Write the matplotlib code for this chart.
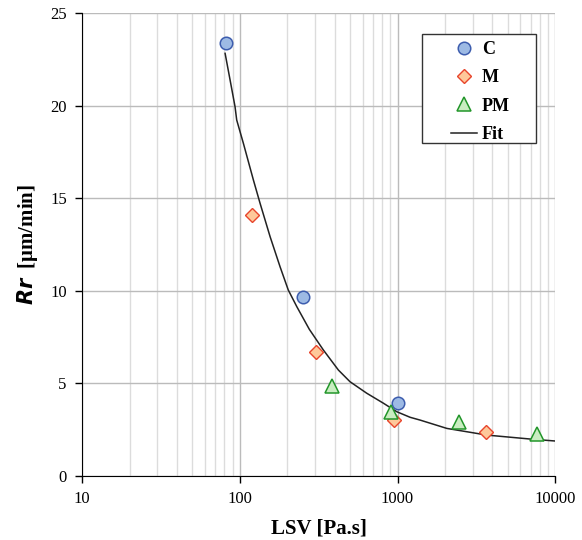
import numpy as np
import matplotlib.pyplot as plt
from matplotlib.patches import Rectangle
from matplotlib.ticker import LogLocator, NullFormatter, FixedLocator

plt.rcParams['font.family'] = ['Liberation Serif', 'DejaVu Serif']

# measured data
c_lsv = [82, 252, 1008]
c_rr = [23.4, 9.67, 3.94]
m_lsv = [120, 305, 950, 3630]
m_rr = [14.1, 6.7, 3.0, 2.4]
pm_lsv = [385, 910, 2460, 7680]
pm_rr = [4.85, 3.47, 2.93, 2.27]

# fit curve
fit_lsv = [80.7, 86.8, 93.3, 95.6, 105.4, 122, 134.5, 155.7, 180, 203, 230,
           276, 339, 422, 500, 638, 814, 990, 1202, 1390, 2055, 3684, 7280,
           10000]
fit_rr = [22.82, 21.38, 19.94, 19.22, 17.96, 15.98, 14.72, 12.92, 11.30,
          10.04, 9.14, 7.92, 6.80, 5.72, 5.09, 4.47, 3.93, 3.47, 3.17, 3.02,
          2.57, 2.21, 1.98, 1.89]

fig = plt.figure(figsize=(5.82, 5.40), dpi=100)
ax = fig.add_axes([0.141, 0.1185, 0.813, 0.8575])

ax.plot(fit_lsv, fit_rr, c='#222222', lw=1.1, label='Fit', zorder=3)
ax.plot(c_lsv, c_rr, 'o', ms=9, mfc='#9DBAE4', mec='#3D5DAE', mew=1.1,
        label='C', zorder=4)
ax.plot(m_lsv, m_rr, 'D', ms=7, mfc='#FEC89A', mec='#E8452C', mew=1.0,
        label='M', zorder=4)
ax.plot(pm_lsv, pm_rr, '^', ms=10, mfc='#C9EDC1', mec='#22962A', mew=1.1,
        label='PM', zorder=4)

ax.set_xscale('log')
ax.set_xlim(10, 10000)
ax.set_ylim(0, 25)
ax.set_yticks([0, 5, 10, 15, 20, 25])
ax.xaxis.set_major_locator(FixedLocator([10, 100, 1000, 10000]))
ax.set_xticklabels(['10', '100', '1000', '10000'])
ax.xaxis.set_minor_locator(LogLocator(base=10, subs=np.arange(2, 10)))
ax.xaxis.set_minor_formatter(NullFormatter())

ax.grid(which='major', axis='both', color='#BBBBBB', lw=1.0)
ax.grid(which='minor', axis='x', color='#DCDCDC', lw=1.0)
ax.set_axisbelow(True)

for s in ['top', 'right']:
    ax.spines[s].set_visible(False)
ax.tick_params(which='major', direction='out', length=5, width=1,
               labelsize=12, pad=6)
ax.tick_params(which='minor', length=0)

ax.set_xlabel('LSV [Pa.s]', fontsize=15, fontweight='bold', labelpad=8)
ax.set_ylabel(r'$\mathbfit{Rr}$  [$\mathregular{\mu}$m/min]', fontsize=15,
              fontweight='bold', labelpad=7)

# legend: no own frame, box drawn separately to get the wide look
h, l = ax.get_legend_handles_labels()
order = [1, 2, 3, 0]
leg = ax.legend([h[i] for i in order], [l[i] for i in order],
                loc='upper left', bbox_to_anchor=(0.75, 0.97),
                prop={'weight': 'bold', 'size': 13}, frameon=False,
                borderpad=0.3, labelspacing=0.62, handlelength=1.4,
                handletextpad=0.3)
leg.set_zorder(6)
box = Rectangle((0.719, 0.719), 0.241, 0.236, transform=ax.transAxes,
                facecolor='white', edgecolor='#333333', lw=1.0, zorder=5)
ax.add_patch(box)

plt.savefig('out.png')
